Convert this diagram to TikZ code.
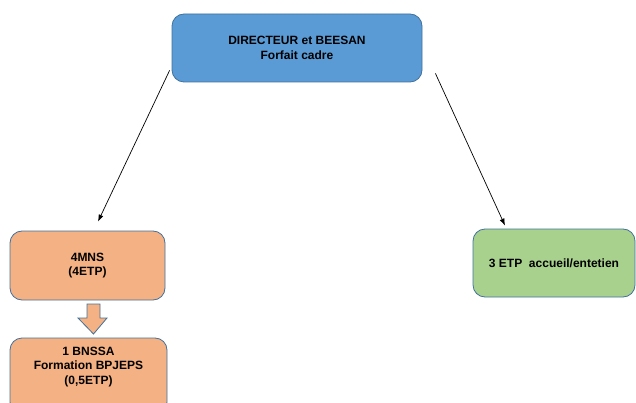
\documentclass[tikz,border=0pt]{standalone}
\usepackage{fontspec}
\setmainfont{Liberation Sans}
\usetikzlibrary{calc,arrows.meta}
\definecolor{boxblue}{HTML}{5B9BD5}
\definecolor{boxorange}{HTML}{F4B183}
\definecolor{boxgreen}{HTML}{A9D18E}
\definecolor{edgeblue}{HTML}{41719C}
\tikzset{
  card/.style={draw=edgeblue, line width=0.8pt, rounded corners=12pt, align=center,
    font=\fontsize{12}{14.5}\selectfont\bfseries, inner sep=0pt},
  link/.style={-{Latex[length=7pt,width=5pt]}, black, line width=0.7pt},
}
\begin{document}
\begin{tikzpicture}[x=1pt,y=-1pt]
\useasboundingbox (0,0) rectangle (636,403);
\node[card, fill=boxblue, minimum width=250pt, minimum height=68pt] (dir) at (297,48) {DIRECTEUR et BEESAN\\Forfait cadre};
\node[card, fill=boxorange, minimum width=155pt, minimum height=69pt] (mns) at (87.5,265.5) {4MNS\\(4ETP)};
\node[card, fill=boxorange, minimum width=157pt, minimum height=76pt] (bnssa) at (88.5,376) {1 BNSSA\\Formation BPJEPS\\(0,5ETP)\\[6pt]};
\node[card, fill=boxgreen, minimum width=162pt, minimum height=68pt] (etp) at (554,263) {3 ETP\ \ accueil/entetien};
\draw[fill=boxorange, draw=edgeblue, line width=0.8pt] (87,304) -- (100,304) -- (100,318) -- (107,318) -- (93.5,334) -- (78,318) -- (87,318) -- cycle;
\draw[link] ($(dir.south west)+(-2,-12)$) -- ($(mns.north)+(10.5,-9)$);
\draw[link] ($(dir.south east)+(13,-9)$) -- ($(etp.north)+(-49,-3)$);
\end{tikzpicture}
\end{document}
